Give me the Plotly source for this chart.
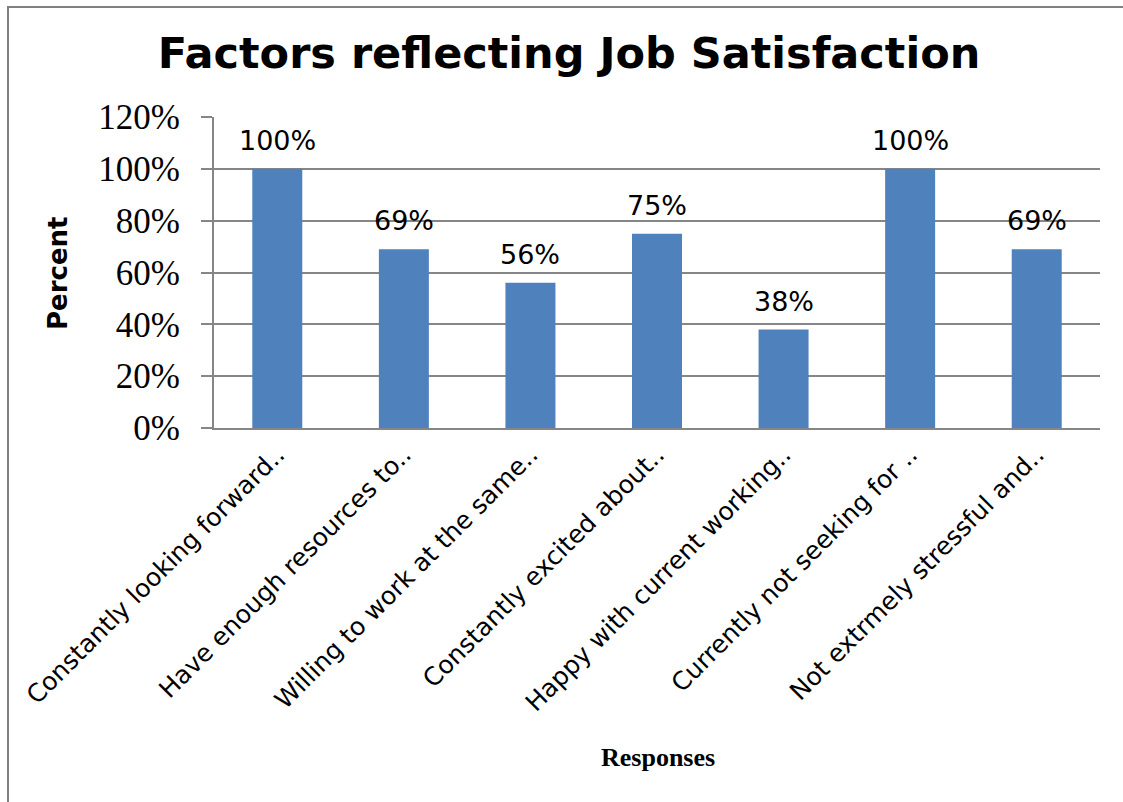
import plotly.graph_objects as go

# Survey responses and share of respondents agreeing
categories = [
    "Constantly looking forward..",
    "Have enough resources to..",
    "Willing to work at the same..",
    "Constantly excited about..",
    "Happy with current working..",
    "Currently not seeking for ..",
    "Not extrmely stressful and..",
]
percent_values = [1.00, 0.69, 0.56, 0.75, 0.38, 1.00, 0.69]
y_tick_values = [0, 0.2, 0.4, 0.6, 0.8, 1.0, 1.2]
y_tick_labels = ["0%", "20%", "40%", "60%", "80%", "100%", "120%"]

W, H = 1123, 802
ML, MR, MT, MB = 214, 23, 117, 374

BAR_COLOR = "#4F81BD"
GRID_COLOR = "#868686"

pw = W - ML - MR
ph = H - MT - MB


def px_to_paper_x(px):
    return (px - ML) / pw


def px_to_paper_y(py):
    return (H - MB - py) / ph


fig = go.Figure()
fig.add_trace(go.Bar(
    x=categories,
    y=percent_values,
    marker=dict(color=BAR_COLOR, line=dict(width=0)),
    width=0.395,
    hoverinfo="skip",
))

# Value labels above each bar
for cat, v in zip(categories, percent_values):
    fig.add_annotation(
        x=cat, y=v, xref="x", yref="y",
        text=f"{round(v * 100)}%",
        showarrow=False, yanchor="bottom", yshift=11,
        font=dict(family="DejaVu Sans", size=27, color="#000000"),
    )

# Axis titles
fig.add_annotation(
    x=px_to_paper_x(58), y=px_to_paper_y(273), xref="paper", yref="paper",
    text="<b>Percent</b>", textangle=-90, showarrow=False,
    xanchor="center", yanchor="middle",
    font=dict(family="DejaVu Sans", size=26, color="#000000"),
)
fig.add_annotation(
    x=px_to_paper_x(658), y=px_to_paper_y(757), xref="paper", yref="paper",
    text="<b>Responses</b>", showarrow=False,
    xanchor="center", yanchor="middle",
    font=dict(family="Liberation Serif", size=26, color="#000000"),
)

# Chart frame
fig.add_shape(
    type="rect", xref="paper", yref="paper",
    x0=px_to_paper_x(8), x1=px_to_paper_x(W + 5),
    y0=px_to_paper_y(H + 5), y1=px_to_paper_y(7),
    line=dict(color="#808080", width=2), fillcolor="rgba(0,0,0,0)",
    layer="below",
)

fig.update_layout(
    width=W, height=H,
    margin=dict(l=ML, r=MR, t=MT, b=MB, pad=0),
    paper_bgcolor="#FFFFFF",
    plot_bgcolor="#FFFFFF",
    showlegend=False,
    title=dict(
        text="<b>Factors reflecting Job Satisfaction</b>",
        x=569 / W, xanchor="center",
        y=1 - 53 / H, yanchor="middle", yref="container",
        font=dict(family="DejaVu Sans", size=43, color="#000000"),
    ),
    xaxis=dict(
        type="category",
        tickangle=-45,
        tickfont=dict(family="DejaVu Sans", size=25, color="#000000"),
        showline=True, linecolor=GRID_COLOR, linewidth=2,
        ticks="", showgrid=False,
    ),
    yaxis=dict(
        range=[0, 1.2],
        tickvals=y_tick_values,
        ticktext=y_tick_labels,
        tickfont=dict(family="Liberation Serif", size=35, color="#000000"),
        ticklabelstandoff=14,
        showline=True, linecolor=GRID_COLOR, linewidth=2,
        showgrid=True, gridcolor=GRID_COLOR, gridwidth=1.5,
        ticks="outside", ticklen=11, tickcolor=GRID_COLOR, tickwidth=1.5,
        zeroline=False,
    ),
)

fig.write_html("out.html")
